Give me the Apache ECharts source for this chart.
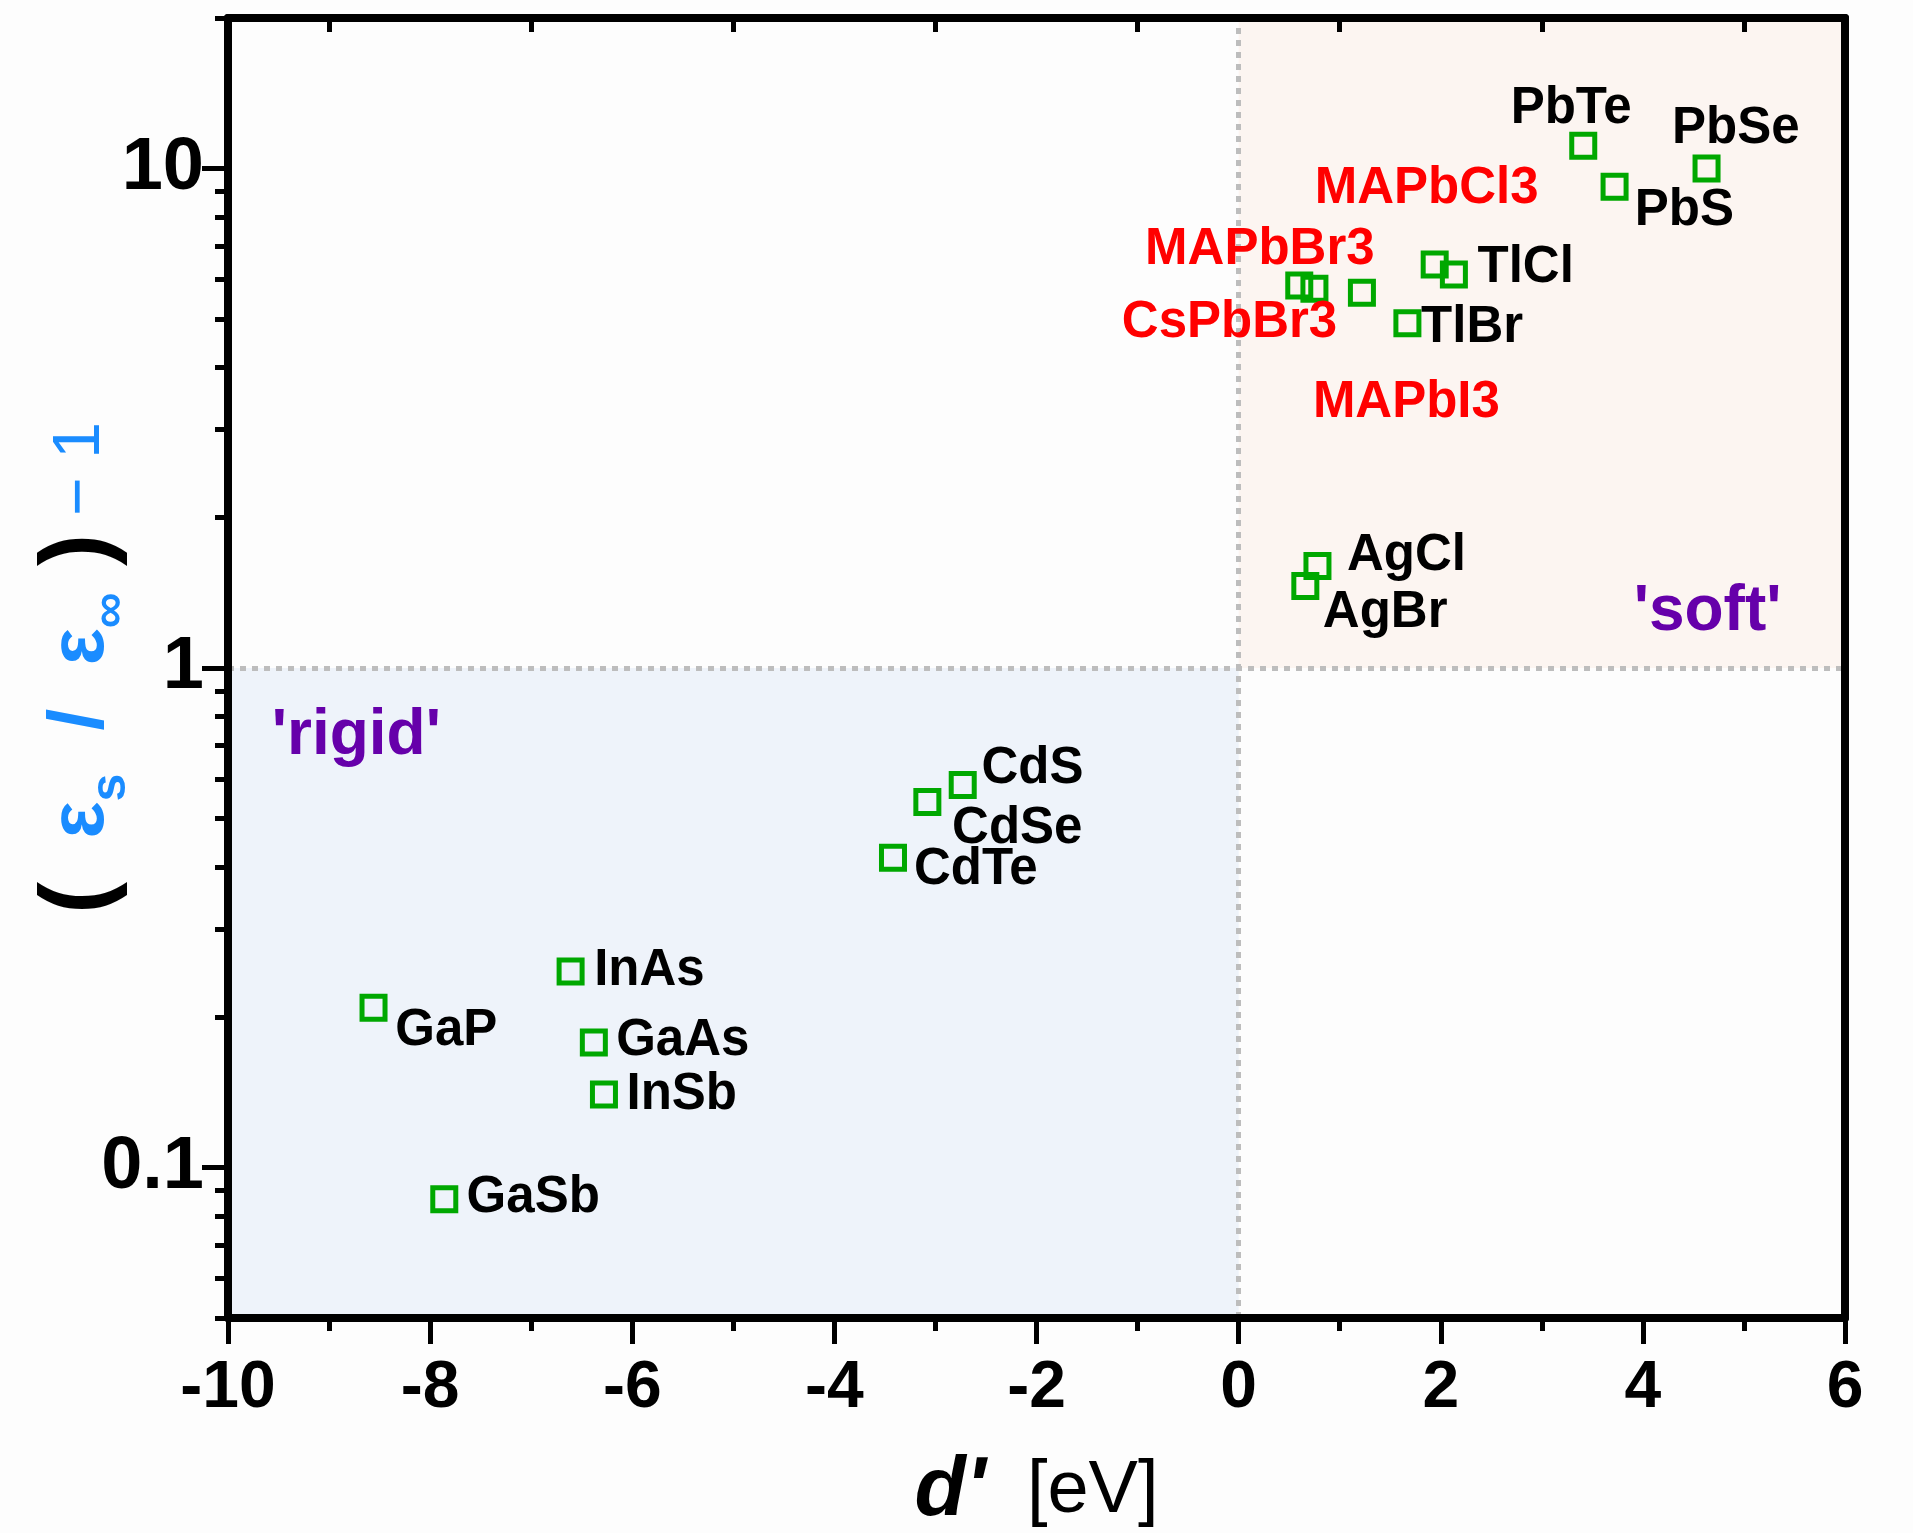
<!DOCTYPE html>
<html><head><meta charset="utf-8">
<script src="https://cdn.jsdelivr.net/npm/echarts@6/dist/echarts.min.js"></script>
<style>html,body{margin:0;padding:0;background:#fdfdfd}#c{width:1913px;height:1533px}</style>
</head><body><div id="c"></div>
<script>
// ---- data ----
const materials = ['PbTe','PbSe','PbS','MAPbCl3','TlCl','MAPbBr3','CsPbBr3','MAPbI3','TlBr','AgCl','AgBr','CdS','CdSe','CdTe','InAs','GaP','GaAs','InSb','GaSb'];
const dPrime = [3.41,4.63,3.72,1.94,2.13,0.60,0.75,1.22,1.67,0.78,0.66,-2.73,-3.08,-3.42,-6.61,-8.56,-6.38,-6.28,-7.86];
const ratio  = [11.1,10.0,9.19,6.42,6.13,5.83,5.74,5.64,4.90,1.60,1.46,0.583,0.539,0.417,0.247,0.209,0.178,0.140,0.0864];
const perovskites = ['MAPbCl3','MAPbBr3','CsPbBr3','MAPbI3'];
// label anchor points (data space)
const labelX = [3.29,4.92,4.41,1.86,2.84,0.21,-0.09,1.66,2.31,1.66,1.45,-2.04,-2.19,-2.60,-5.83,-7.84,-5.50,-5.51,-6.98];
const labelY = [13.17,11.97,8.21,9.09,6.31,6.87,4.90,3.40,4.79,1.677,1.288,0.627,0.477,0.394,0.248,0.1875,0.1794,0.140,0.0869];
const regionNames = ["'rigid'","'soft'"];
const regionLabelX = [-8.73, 4.64];
const regionLabelY = [0.730, 1.295];
// axes
const xRange = [-10, 6];
const yRange = [0.05, 20];
const yTickValues = [0.1, 1, 10];
const yTickLabels = ['0.1', '1', '10'];
const yMinorValues = [0.05,0.06,0.07,0.08,0.09,0.2,0.3,0.4,0.5,0.6,0.7,0.8,0.9,2,3,4,5,6,7,8,9,20];
const xTopTicks = [-9,-7,-5,-3,-1,1,3,5];
const rigidRegion = [[-10, 0.05],[0, 1]];
const softRegion = [[0, 1],[6, 20]];

// ---- chart ----
const FONT = '"Liberation Sans", Arial, Helvetica, sans-serif';
const BLUE = '#1a8cff';
const lg = Math.log10;
const blackLine = {color:'#000', width:8, opacity:1};
const tickStyle = {color:'#000', width:5, opacity:1};

const chart = echarts.init(document.getElementById('c'), null, {renderer:'canvas'});
const option = {
  animation: false,
  backgroundColor: '#fdfdfd',
  grid: {left:228, right:68, top:18, bottom:215, containLabel:false, outerBoundsMode:'none'},
  xAxis: [
    {type:'value', position:'bottom', min:xRange[0], max:xRange[1], interval:2, z:10,
     axisLine:{show:true, onZero:false, lineStyle:blackLine},
     axisTick:{show:true, length:26, lineStyle:tickStyle},
     minorTick:{show:true, splitNumber:2, length:13, lineStyle:tickStyle},
     splitLine:{show:false}, minorSplitLine:{show:false},
     axisLabel:{fontSize:66, fontWeight:'bold', color:'#000', fontFamily:FONT, margin:38},
     name:"{d|d'}{u|  [eV]}", nameLocation:'middle', nameGap:126,
     nameTextStyle:{rich:{
       d:{fontSize:84, fontWeight:'bold', fontStyle:'italic', color:'#000', fontFamily:FONT, lineHeight:96},
       u:{fontSize:74, color:'#000', fontFamily:FONT, lineHeight:96}
     }}},
    {type:'value', position:'top', min:xRange[0], max:xRange[1], interval:2, z:10,
     axisLine:{show:true, onZero:false, lineStyle:blackLine},
     axisTick:{show:true, inside:true, length:14, customValues:xTopTicks, lineStyle:tickStyle},
     axisLabel:{show:false}, splitLine:{show:false}}
  ],
  yAxis: [
    {type:'log', logBase:10, position:'left', min:yRange[0], max:yRange[1], z:10,
     axisLine:{show:true, onZero:false, lineStyle:blackLine},
     axisTick:{show:false}, axisLabel:{show:false}, splitLine:{show:false},
     name:'{p|(}{e|  ε}{s|s}{sl|  /  }{e|ε}{s|∞}{p| )}{sup| − 1}',
     nameLocation:'middle', nameRotate:90, nameGap:92,
     nameTextStyle:{rich:{
       p:{fontSize:96, fontWeight:'bold', color:'#000', fontFamily:FONT, lineHeight:110},
       e:{fontSize:78, fontWeight:'bold', color:BLUE, fontFamily:FONT, lineHeight:110},
       sl:{fontSize:78, fontWeight:'bold', color:BLUE, fontFamily:FONT, lineHeight:110},
       s:{fontSize:50, fontWeight:'bold', color:BLUE, fontFamily:FONT, lineHeight:60, verticalAlign:'bottom'},
       sup:{fontSize:66, color:BLUE, fontFamily:FONT, lineHeight:110, verticalAlign:'middle'}
     }}},
    {type:'value', position:'left', min:lg(yRange[0]), max:lg(yRange[1]), z:10,
     axisLine:{show:false, onZero:false}, splitLine:{show:false},
     axisTick:{show:true, length:26, customValues:yTickValues.map(lg), lineStyle:tickStyle},
     axisLabel:{show:true, customValues:yTickValues.map(lg), fontSize:74, fontWeight:'bold', color:'#000', fontFamily:FONT, margin:24,
       formatter:function(v){ const i = yTickValues.findIndex(t => Math.abs(lg(t)-v) < 1e-6); return i>=0 ? yTickLabels[i] : ''; }}},
    {type:'value', position:'left', min:lg(yRange[0]), max:lg(yRange[1]), z:10,
     axisLine:{show:false, onZero:false}, splitLine:{show:false}, axisLabel:{show:false},
     axisTick:{show:true, length:13, customValues:yMinorValues.map(lg), lineStyle:tickStyle}},
    {type:'log', logBase:10, position:'right', min:yRange[0], max:yRange[1], z:10,
     axisLine:{show:true, onZero:false, lineStyle:blackLine},
     axisTick:{show:false}, axisLabel:{show:false}, splitLine:{show:false}}
  ],
  series: [
    {type:'scatter', name:'regions', xAxisIndex:0, yAxisIndex:0, data:[], z:1, silent:true,
     itemStyle:{opacity:1},
     markArea:{silent:true, data:[
       [{xAxis:rigidRegion[0][0], yAxis:rigidRegion[0][1], itemStyle:{color:'#eef3fa', opacity:1}}, {xAxis:rigidRegion[1][0], yAxis:rigidRegion[1][1]}],
       [{xAxis:softRegion[0][0], yAxis:softRegion[0][1], itemStyle:{color:'#fcf5f1', opacity:1}}, {xAxis:softRegion[1][0], yAxis:softRegion[1][1]}]
     ]},
     markLine:{silent:true, symbol:['none','none'], label:{show:false}, z:3,
       lineStyle:{color:'#bdbdbd', width:5, type:[6,6], opacity:1},
       emphasis:{disabled:true},
       data:[{xAxis:0}, {yAxis:1}]}},
    {type:'scatter', name:'materials', xAxisIndex:0, yAxisIndex:0, z:5,
     symbol:'rect', symbolSize:23,
     itemStyle:{color:'rgba(255,255,255,0)', borderColor:'#00a800', borderWidth:5, opacity:1},
     data: materials.map((m,i) => ({name:m, value:[dPrime[i], ratio[i]]}))},
    {type:'scatter', name:'labels', xAxisIndex:0, yAxisIndex:0, z:6, silent:true,
     symbolSize:0, itemStyle:{opacity:1},
     label:{show:true, position:'inside', formatter:'{b}', fontSize:51, fontWeight:'bold', fontFamily:FONT, color:'#000', opacity:1},
     data: materials.map((m,i) => ({name:m, value:[labelX[i], labelY[i]],
       label:{color: perovskites.includes(m) ? '#ff0000' : '#000'}}))
       .concat(regionNames.map((r,i) => ({name:r, value:[regionLabelX[i], regionLabelY[i]],
       label:{color:'#6600aa', fontSize:64}})))}
  ]
};
chart.setOption(option);
</script></body></html>
